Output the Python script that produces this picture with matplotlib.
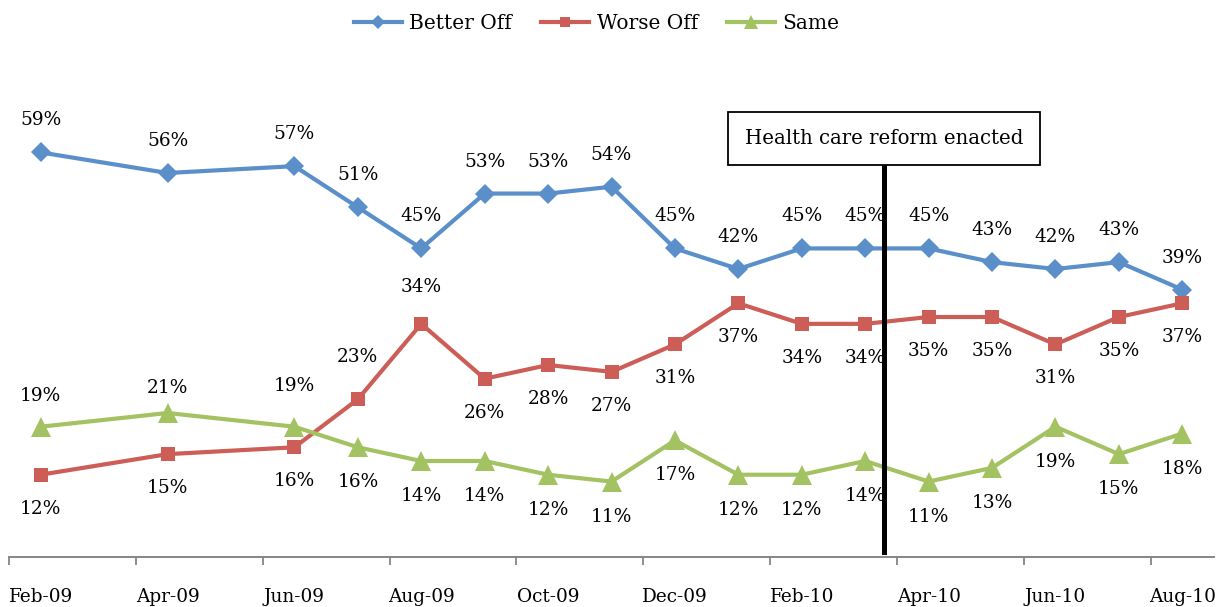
import matplotlib.pyplot as plt
import numpy as np

# month index 0 = Feb-09 ... 18 = Aug-10 (no survey in Mar-09, May-09)
months = [0, 2, 4, 5, 6, 7, 8, 9, 10, 11, 12, 13, 14, 15, 16, 17, 18]
tick_labels = ['Feb-09', 'Apr-09', 'Jun-09', 'Aug-09', 'Oct-09', 'Dec-09',
               'Feb-10', 'Apr-10', 'Jun-10', 'Aug-10']

better_off = [59, 56, 57, 51, 45, 53, 53, 54, 45, 42, 45, 45, 45, 43, 42, 43, 39]
worse_off = [12, 15, 16, 23, 34, 26, 28, 27, 31, 37, 34, 34, 35, 35, 31, 35, 37]
same = [19, 21, 19, 16, 14, 14, 12, 11, 17, 12, 12, 14, 11, 13, 19, 15, 18]

reform_month = 13.3  # late March 2010

# label offsets in pixels (positive = above the point)
blue_off = [32] * 17
red_off = [-34] * 17
red_off[3] = 42
red_off[4] = 37
green_off = [-35] * 17
green_off[0] = 31
green_off[1] = 25
green_off[2] = 41

BLUE = '#5A8FCA'
RED = '#CD5D57'
GREEN = '#A3C262'
FONT = 'DejaVu Serif'

plt.rcParams['font.family'] = FONT

fig = plt.figure(figsize=(12.25, 6.07), dpi=100)
ax = fig.add_axes([9 / 1225, 50 / 607, 1205 / 1225, 480 / 607])

series = [
    ('Better Off', better_off, BLUE, 'D', 10, blue_off),
    ('Worse Off', worse_off, RED, 's', 10.5, red_off),
    ('Same', same, GREEN, '^', 14, green_off),
]

for name, vals, col, mk, ms, offs in series:
    ax.plot(months, vals, color=col, lw=3, marker=mk, markersize=ms,
            markeredgewidth=0, label=name, clip_on=False)
    for m, v, o in zip(months, vals, offs):
        ax.annotate(f'{v}%', (m, v), xytext=(0, o), textcoords='offset pixels',
                    ha='center', va='center', fontsize=13.3, color='black')

# health care reform marker
ax.axvline(reform_month, ymin=0.01, ymax=0.818, color='black', lw=3.6, zorder=10)
ax.text(reform_month, 61, 'Health care reform enacted', ha='center', va='center',
        fontsize=14.2, zorder=11,
        bbox=dict(boxstyle='square,pad=0.85', fc='white', ec='black', lw=1.3))

ax.set_xlim(-0.5, 18.5)
ax.set_ylim(0, 70)
ax.set_xticks(range(0, 19, 2))
ax.set_xticklabels(tick_labels)
ax.set_xticks(np.arange(-0.5, 18, 2), minor=True)
ax.tick_params(axis='x', which='major', length=0, pad=22, labelsize=13.3)
ax.tick_params(axis='x', which='minor', length=6, width=1.3, color='#868686',
               direction='out')
ax.set_yticks([])
for s in ['top', 'left', 'right']:
    ax.spines[s].set_visible(False)
ax.spines['bottom'].set_color('#868686')
ax.spines['bottom'].set_linewidth(1.4)

fig.legend(loc='center', bbox_to_anchor=(0.487, 0.962), ncol=3, frameon=False,
           fontsize=14.5, handlelength=2.4, handletextpad=0.35,
           columnspacing=1.45, markerscale=0.7)

fig.savefig('out.png', dpi=100)
